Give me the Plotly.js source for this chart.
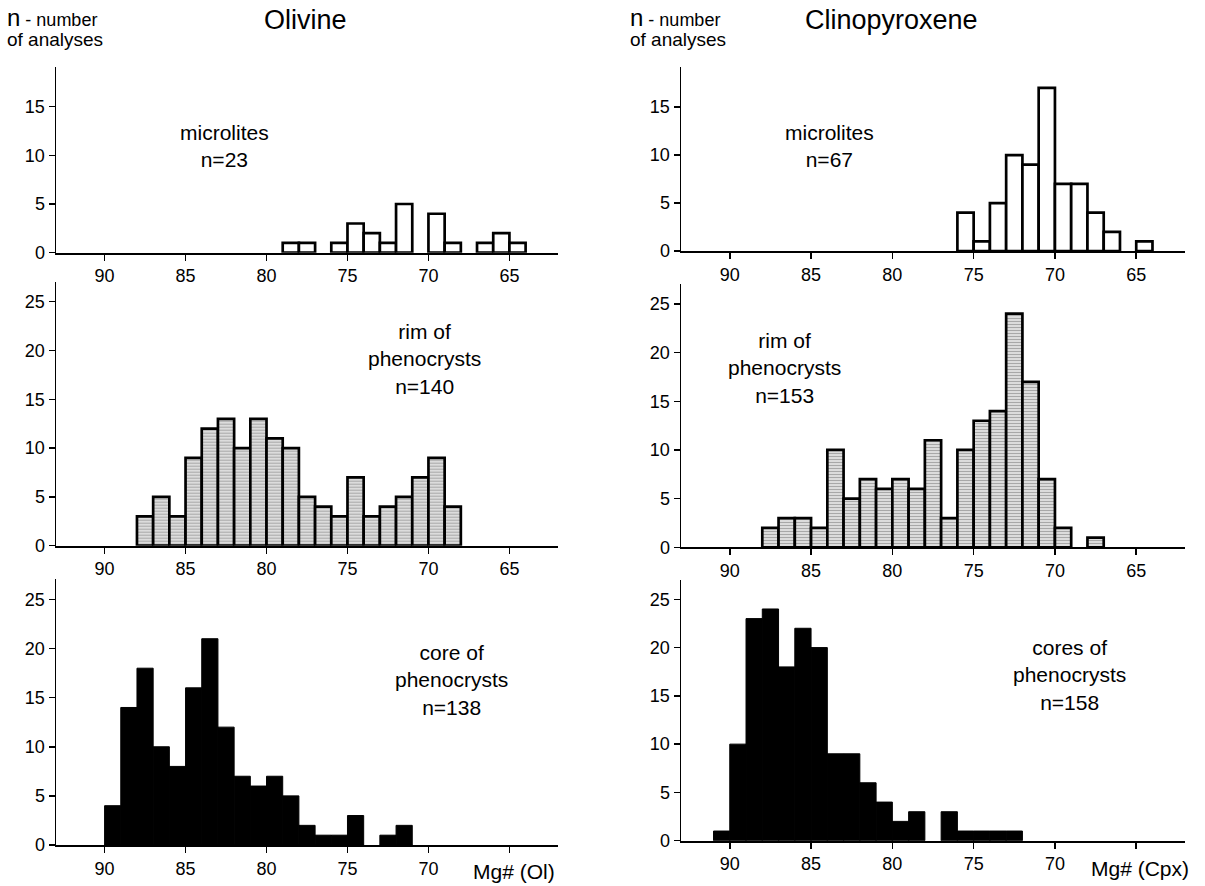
<!DOCTYPE html>
<html>
<head>
<meta charset="utf-8">
<script src="https://cdn.plot.ly/plotly-3.0.1.min.js"></script>
<style>html,body{margin:0;padding:0;background:#fff;}#chart{width:1205px;height:886px;}</style>
</head>
<body>
<div id="chart"></div>
<script>
// Bin centres (Mg#, 1-unit bins) and counts
const olMicroX = [78.5, 77.5, 75.5, 74.5, 73.5, 72.5, 71.5, 69.5, 68.5, 66.5, 65.5, 64.5];
const olMicroN = [1, 1, 1, 3, 2, 1, 5, 4, 1, 1, 2, 1];
const olRimX = [87.5, 86.5, 85.5, 84.5, 83.5, 82.5, 81.5, 80.5, 79.5, 78.5, 77.5, 76.5, 75.5, 74.5, 73.5, 72.5, 71.5, 70.5, 69.5, 68.5];
const olRimN = [3, 5, 3, 9, 12, 13, 10, 13, 11, 10, 5, 4, 3, 7, 3, 4, 5, 7, 9, 4];
const olCoreX = [89.5, 88.5, 87.5, 86.5, 85.5, 84.5, 83.5, 82.5, 81.5, 80.5, 79.5, 78.5, 77.5, 76.5, 75.5, 74.5, 72.5, 71.5];
const olCoreN = [4, 14, 18, 10, 8, 16, 21, 12, 7, 6, 7, 5, 2, 1, 1, 3, 1, 2];
const cpxMicroX = [75.5, 74.5, 73.5, 72.5, 71.5, 70.5, 69.5, 68.5, 67.5, 66.5, 64.5];
const cpxMicroN = [4, 1, 5, 10, 9, 17, 7, 7, 4, 2, 1];
const cpxRimX = [87.5, 86.5, 85.5, 84.5, 83.5, 82.5, 81.5, 80.5, 79.5, 78.5, 77.5, 76.5, 75.5, 74.5, 73.5, 72.5, 71.5, 70.5, 69.5, 67.5];
const cpxRimN = [2, 3, 3, 2, 10, 5, 7, 6, 7, 6, 11, 3, 10, 13, 14, 24, 17, 7, 2, 1];
const cpxCoreX = [90.5, 89.5, 88.5, 87.5, 86.5, 85.5, 84.5, 83.5, 82.5, 81.5, 80.5, 79.5, 78.5, 76.5, 75.5, 74.5, 73.5, 72.5];
const cpxCoreN = [1, 10, 23, 24, 18, 22, 20, 9, 9, 6, 4, 2, 3, 3, 1, 1, 1, 1];

const xTicks = [90, 85, 80, 75, 70, 65];
const xTickText = ['90', '85', '80', '75', '70', '65'];
const xTickTextBottom = ['90', '85', '80', '75', '70', ''];
const yTicksTop = [0, 5, 10, 15];
const yTicksLow = [0, 5, 10, 15, 20, 25];

const panelLabels = {
  olMicro: 'microlites<br>n=23',
  olRim: 'rim of<br>phenocrysts<br>n=140',
  olCore: 'core of<br>phenocrysts<br>n=138',
  cpxMicro: 'microlites<br>n=67',
  cpxRim: 'rim of<br>phenocrysts<br>n=153',
  cpxCore: 'cores of<br>phenocrysts<br>n=158'
};

const FONT = 'Liberation Sans, Arial, Helvetica, sans-serif';
const W = 1205, H = 886;
const px = v => v / W;
const py = v => 1 - v / H;

const microStyle = {color: '#ffffff', line: {color: '#000', width: 2.7}};
const rimStyle = {color: '#d2d2d2', line: {color: '#000', width: 2.7},
  pattern: {shape: '-', fgcolor: '#a8a8a8', bgcolor: '#dcdcdc', size: 3, solidity: 0.35}};
const coreStyle = {color: '#000000', line: {color: '#000', width: 1}};

function bar(x, y, style, ax) {
  return {type: 'bar', x: x, y: y, width: 1, marker: style,
          xaxis: 'x' + ax, yaxis: 'y' + ax, hoverinfo: 'x+y', showlegend: false};
}

const data = [
  bar(olMicroX, olMicroN, microStyle, ''),
  bar(olRimX, olRimN, rimStyle, '2'),
  bar(olCoreX, olCoreN, coreStyle, '3'),
  bar(cpxMicroX, cpxMicroN, microStyle, '4'),
  bar(cpxRimX, cpxRimN, rimStyle, '5'),
  bar(cpxCoreX, cpxCoreN, coreStyle, '6')
];

function xa(domain, anchor, ticktext) {
  return {domain: domain, anchor: anchor, range: [93, 62], showgrid: false, zeroline: false,
          showline: true, linecolor: '#000', linewidth: 2, ticks: 'outside', ticklen: 6,
          tickwidth: 1.5, tickcolor: '#000', tickvals: xTicks, ticktext: ticktext,
          tickfont: {family: FONT, size: 18, color: '#000'}, fixedrange: true};
}
function ya(domain, anchor, top, tickvals) {
  return {domain: domain, anchor: anchor, range: [0, top], showgrid: false, zeroline: false,
          showline: true, linecolor: '#000', linewidth: 1.5, ticks: 'outside', ticklen: 6,
          tickwidth: 1.5, tickcolor: '#000', tickvals: tickvals,
          tickfont: {family: FONT, size: 18, color: '#000'}, fixedrange: true};
}

const olX = [px(56), px(558)];
const cpxX = [px(681), px(1185)];

function ann(x, y, text, size, extra) {
  return Object.assign({xref: 'paper', yref: 'paper', x: px(x), y: py(y), text: text,
    showarrow: false, xanchor: 'center', yanchor: 'middle',
    font: {family: FONT, size: size, color: '#000'}}, extra || {});
}

const annotations = [
  ann(305, 20, 'Olivine', 27),
  ann(891, 20, 'Clinopyroxene', 27),
  ann(5, 17, '<span style="font-size:24px">n</span> - number', 18, {xanchor: 'left'}),
  ann(5, 40, 'of analyses', 19, {xanchor: 'left'}),
  ann(628, 17, '<span style="font-size:24px">n</span> - number', 18, {xanchor: 'left'}),
  ann(628, 40, 'of analyses', 19, {xanchor: 'left'}),
  ann(224, 146, panelLabels.olMicro, 21, {align: 'center'}),
  ann(424, 359, panelLabels.olRim, 21, {align: 'center'}),
  ann(451, 680, panelLabels.olCore, 21, {align: 'center'}),
  ann(829, 146, panelLabels.cpxMicro, 21, {align: 'center'}),
  ann(784, 368, panelLabels.cpxRim, 21, {align: 'center'}),
  ann(1069, 675, panelLabels.cpxCore, 21, {align: 'center'}),
  ann(514, 871, 'Mg# (Ol)', 21),
  ann(1140, 868, 'Mg# (Cpx)', 21)
];

const layout = {
  width: W, height: H,
  margin: {l: 0, r: 0, t: 0, b: 0, pad: 0},
  paper_bgcolor: '#fff', plot_bgcolor: '#fff',
  bargap: 0, showlegend: false,
  font: {family: FONT, color: '#000'},
  xaxis: xa(olX, 'y', xTickText),
  yaxis: ya([py(252.7), py(66.7)], 'x', 19.1, yTicksTop),
  xaxis2: xa(olX, 'y2', xTickText),
  yaxis2: ya([py(545.7), py(281.7)], 'x2', 27.05, yTicksLow),
  xaxis3: xa(olX, 'y3', xTickTextBottom),
  yaxis3: ya([py(845), py(579.3)], 'x3', 27.05, yTicksLow),
  xaxis4: xa(cpxX, 'y4', xTickText),
  yaxis4: ya([py(251), py(67.3)], 'x4', 19.15, yTicksTop),
  xaxis5: xa(cpxX, 'y5', xTickText),
  yaxis5: ya([py(547.3), py(284)], 'x5', 27.05, yTicksLow),
  xaxis6: xa(cpxX, 'y6', xTickTextBottom),
  yaxis6: ya([py(840.7), py(580)], 'x6', 27.0, yTicksLow),
  annotations: annotations
};

Plotly.newPlot('chart', data, layout, {displayModeBar: false, staticPlot: true});
</script>
</body>
</html>
